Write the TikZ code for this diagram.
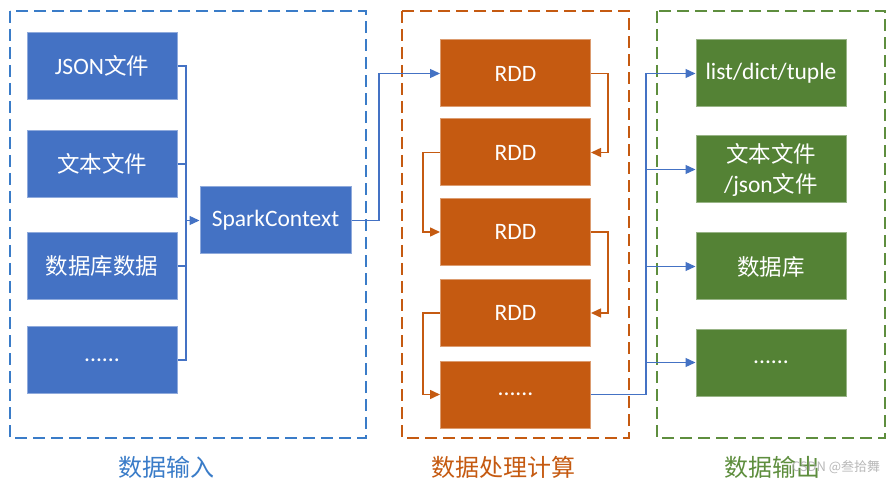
\documentclass[tikz,border=0pt]{standalone}
\usepackage{fontspec}
\setmainfont{Carlito}
\newfontfamily\cjk{Noto Sans CJK SC}
\usetikzlibrary{arrows.meta}
\definecolor{cblue}{HTML}{4472C4}
\definecolor{dblue}{HTML}{3A7CC8}
\definecolor{corange}{HTML}{C55A11}
\definecolor{cgreen}{HTML}{548235}
\definecolor{dgreen}{HTML}{5E8E3E}
\tikzset{
  box/.style={minimum width=150pt,minimum height=67pt,inner sep=0pt,text=white,font=\fontsize{23.5}{26}\selectfont,align=center,line width=1pt},
  bbox/.style={box,fill=cblue,draw=cblue!60!white},
  obox/.style={box,fill=corange,draw=corange!60!white},
  gbox/.style={box,fill=cgreen,draw=cgreen!60!white},
  frame/.style={dash pattern=on 12pt off 6pt,line width=1.8pt},
  barrow/.style={draw=cblue,line width=1.3pt,-{Triangle[length=10pt,width=9pt]}},
  bline/.style={draw=cblue,line width=1.3pt},
  oarrow/.style={draw=corange,line width=1.5pt,-{Triangle[length=10pt,width=9pt]}},
  caption/.style={font=\cjk\fontsize{24}{26}\selectfont,inner sep=0pt}
}
\begin{document}
\begin{tikzpicture}[x=1pt,y=-1pt]
\useasboundingbox (0,0) rectangle (894,486);
% frames
\draw[frame,draw=dblue] (10,11) rectangle (366,438);
\draw[frame,draw=corange] (402,11) rectangle (629,438);
\draw[frame,draw=dgreen] (657,11) rectangle (885,438);
% input boxes
\node[bbox] (i1) at (102,66) {JSON{\cjk\fontsize{22.5}{26}\selectfont 文件}};
\node[bbox] (i2) at (102,164) {\cjk\fontsize{22.5}{26}\selectfont 文本文件};
\node[bbox] (i3) at (102,266) {\cjk\fontsize{22.5}{26}\selectfont 数据库数据};
\node[bbox] (i4) at (102,360) {......};
\node[bbox,minimum width=151pt] (sc) at (275.5,220.5) {SparkContext};
% processing boxes
\node[obox] (r1) at (515.5,73.5) {RDD};
\node[obox] (r2) at (515.5,152.5) {RDD};
\node[obox] (r3) at (515.5,232) {RDD};
\node[obox] (r4) at (515.5,313) {RDD};
\node[obox] (r5) at (515.5,394.5) {......};
% output boxes
\node[gbox] (o1) at (771,73.5) {list/dict/tuple};
\node[gbox,font=\cjk\fontsize{22.5}{30}\selectfont] (o2) at (771,169.5) {文本文件\\{\fontspec{Carlito}\fontsize{23.5}{30}\selectfont/json}文件};
\node[gbox] (o3) at (771,266.5) {\cjk\fontsize{22.5}{26}\selectfont 数据库};
\node[gbox] (o4) at (771,362.5) {......};
% input connectors
\coordinate (jx) at (186,0);
\draw[bline] (i1.east) -| (jx |- i4.east) -- (i4.east);
\draw[bline] (i2.east) -- (jx |- i2.east);
\draw[bline] (i3.east) -- (jx |- i3.east);
\draw[barrow] (jx |- sc.west) -- (sc.west);
% spark -> rdd1
\coordinate (sx) at (379,0);
\draw[barrow] (sc.east) -- (sx |- sc.east) -- (sx |- r1.west) -- (r1.west);
% rdd chain
\coordinate (rx) at (608,0);
\coordinate (lx) at (423,0);
\draw[oarrow] (r1.east) -- (rx |- r1.east) -- (rx |- r2.east) -- (r2.east);
\draw[oarrow] (r2.west) -- (lx |- r2.west) -- (lx |- r3.west) -- (r3.west);
\draw[oarrow] (r3.east) -- (rx |- r3.east) -- (rx |- r4.east) -- (r4.east);
\draw[oarrow] (r4.west) -- (lx |- r4.west) -- (lx |- r5.west) -- (r5.west);
% outputs
\coordinate (ox) at (646,0);
\draw[bline] (r5.east) -- (ox |- r5.east) -- (ox |- o1.west);
\draw[barrow] (ox |- o1.west) -- (o1.west);
\draw[barrow] (ox |- o2.west) -- (o2.west);
\draw[barrow] (ox |- o3.west) -- (o3.west);
\draw[barrow] (ox |- o4.west) -- (o4.west);
% captions
\node[caption,text=dblue] (c1) at (166,467) {数据输入};
\node[caption,text=corange] (c2) at (503,467) {数据处理计算};
\node[caption,text=dgreen] (c3) at (772,467) {数据输出};
\node[font=\cjk\fontsize{13}{14}\selectfont,text=black!35,inner sep=0pt,opacity=0.8] (wm) at (836,467) {CSDN @叁拾舞};
\end{tikzpicture}
\end{document}
